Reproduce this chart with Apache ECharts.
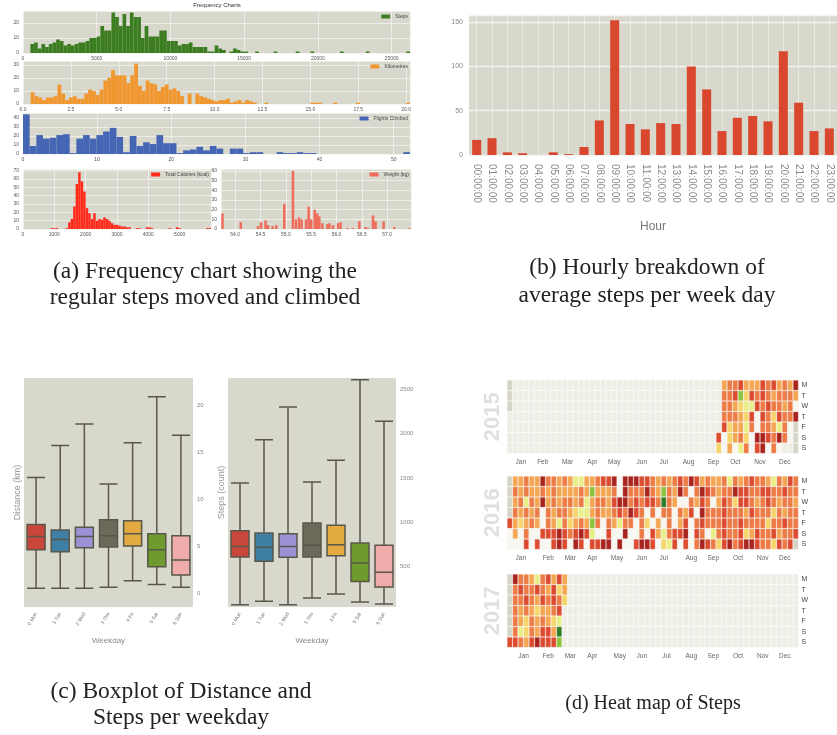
<!DOCTYPE html>
<html>
<head>
<meta charset="utf-8">
<script src="https://cdn.jsdelivr.net/npm/echarts@6/dist/echarts.min.js"></script>
<style>
html,body{margin:0;padding:0;background:#fff;}
#main{width:837px;height:735px;}
</style>
</head>
<body>
<div id="main"></div>
<script>
// ---- (a) frequency charts : histogram counts per bin ----
var stepsBin = 250;
var stepsCounts = [0,0,6,7,3,6,4,6,7,9, 8,5,6,5,6,7,7,8,10,10, 11,18,15,15,27,24,18,26,18,27, 24,24,10,18,11,11,11,15,15,8,
	8,8,5,6,6,7,4,4,4,4, 1,1,5,3,2,0,1,3,2,1, 1,0,0,1,0,0,0,0,1,0, 0,0,0,0,1,0,0,0,1,0, 0,0,0,0,0,0,1,0,0,0, 0,0,0,1,0,0,0,0,0,0, 0,0,0,0,1];
var kmBin = 0.2;
var kmCounts = [0,0,9,6,5,3,5,5,6,15, 8,3,5,6,4,4,8,11,10,7, 11,18,20,26,22,22,22,16,22,31, 14,10,18,16,15,10,13,15,11,12,
	10,6,0,8,0,8,6,5,4,3, 2,3,3,4,1,2,3,1,3,2, 1,0,0,1,0,0,0,0,0,0, 0,0,0,0,0,1,1,1,0,0, 0,1,0,0,0,0,0,1,0,0, 0,0,0,0,0,0,0,0,0,0, 1];
var flightsBin = 0.9;
var flightsCounts = [44,9,21,17,18,21,22,1,17,21, 17,21,25,29,19,2,20,9,13,11, 21,12,12,1,4,5,8,4,9,6, 0,6,6,1,2,2,0,0,2,1, 1,2,1,1,0,0,0,0,0,0, 0,0,0,0,0,0,0,2];
var calBin = 80;
var calCounts = [0,0,0,0,0,0,0,0,0,0, 0,1,1,1,0,0,0,1,8,12, 27,54,68,57,45,25,19,12,19,10, 12,11,14,12,10,7,5,5,4,3,
	3,2,2,0,0,1,1,0,0,2, 2,1,0,0,0,0,0,0,1,0, 0,2,1,0,0,0,0,0,0,0, 0,0,0,1,1];
var weightKg = [53.75,54.11,54.45,54.51,54.60,54.65,54.74,54.81,54.97,55.14,55.20,55.26,55.31,55.40,55.45,55.50,55.57,55.62,55.66,55.72,
	55.82,55.86,55.93,56.03,56.08,56.22,56.32,56.45,56.57,56.62,56.72,56.77,56.93,57.14,57.44];
var weightCount = [16,7,3,7,9,4,3,4,26,60,10,12,10,10,23,10,20,16,13,6, 5,6,4,6,7,1,1,8,2,1,14,8,8,2,1];

// ---- (b) hourly steps ----
var hours = ['00:00:00','01:00:00','02:00:00','03:00:00','04:00:00','05:00:00','06:00:00','07:00:00','08:00:00','09:00:00','10:00:00','11:00:00',
	'12:00:00','13:00:00','14:00:00','15:00:00','16:00:00','17:00:00','18:00:00','19:00:00','20:00:00','21:00:00','22:00:00','23:00:00'];
var hourSteps = [17,19,3,2,0,3,1,9,39,152,35,29,36,35,100,74,27,42,44,38,117,59,27,30];

// ---- (c) boxplots [min, q1, median, q3, max] ----
var weekdays = ['0 Mon','1 Tue','2 Wed','3 Thu','4 Fri','5 Sat','6 Sun'];
var distBox = [[0.5,4.6,6.0,7.3,12.3],[0.5,4.4,5.7,6.7,15.7],[0.5,4.8,6.0,7.0,18.0],[0.6,4.9,6.1,7.8,11.6],
	[1.3,5.0,6.3,7.7,16.0],[0.9,2.8,4.6,6.3,20.9],[0.6,1.9,3.5,6.1,16.8]];
var stepsBox = [[66,606,726,904,1443],[104,557,715,877,1934],[66,602,726,870,2304],[141,606,738,991,1455],
	[187,621,745,964,1700],[96,330,538,764,2613],[74,266,432,738,2142]];

// ---- (d) heat map levels, one string per weekday (Mon..Sun), one char per week column ----
// '.' no data, 0 blank day, 1 (green) .. 8 (dark red)
var heat2015Start = 38;
var heat2015 = ['.56675557675658','.66724767656665','.66543376766560','.66654707647668','.7455360665360.','70456408876860.','405036078060...'];
var heat2016Start = 0;
var heat2016 = [
	'.556558665'+'6533556778'+'0888776565'+'6768756556'+'3656766536'+'576',
	'.656556565'+'5556525556'+'0866686526'+'5860687656'+'6877667766'+'766',
	'.563658565'+'6656356657'+'8867677616'+'5006576057'+'6477656765'+'665',
	'.656560656'+'6543356556'+'7687606066'+'0657086667'+'6665766646'+'566',
	'7545650653'+'6456526065'+'3660640506'+'0570676667'+'6676666466'+'766',
	'0506007778'+'7678730070'+'0800607536'+'7780760367'+'6674576675'+'667',
	'0007070078'+'7087077880'+'8007887043'+'7070687647'+'8678876647'+'67.'];
var heat2017Start = 0;
var heat2017 = ['.8665367575','.6766765745','.6676576764','.656545567','.654656543','.634657751','7765787772'];

var boxColors = ['#c8473a','#3f7fa6','#9d91d6','#6b695a','#e2aa40','#6f9a2d','#efacaa'];
var panelBg = '#d9d8cc';

function pad(n){ return n < 10 ? '0'+n : ''+n; }
function ymd(d){ return d.getUTCFullYear()+'-'+pad(d.getUTCMonth()+1)+'-'+pad(d.getUTCDate()); }
function heatData(rows, yr, startCol){
	var jan1 = Date.UTC(yr,0,1);
	var dow = (new Date(jan1).getUTCDay()+6)%7;
	var t0 = jan1 - dow*864e5;
	var out = [];
	for (var r=0;r<7;r++){
		for (var c=0;c<53;c++){
			var d = new Date(t0 + (c*7+r)*864e5);
			if (d.getUTCFullYear() !== yr){ out.push([ymd(d),-1]); continue; }
			if (c < startCol) continue;
			var ch = rows[r].charAt(c-startCol);
			if (ch === '' || ch === '.') continue;
			out.push([ymd(d), +ch]);
		}
	}
	return {range:[ymd(new Date(t0)), ymd(new Date(t0+370*864e5))], data:out};
}
function idx(arr){ return arr.map(function(v,i){ return i; }); }
function plain(v){ return String(v); }

var grids = [
	{left:23, top:11, width:387, height:42},
	{left:23, top:61, width:387, height:43},
	{left:23, top:113, width:387, height:41},
	{left:23, top:169, width:188, height:60},
	{left:221, top:169, width:190, height:60},
	{left:469, top:15, width:372, height:140},
	{left:24, top:378, width:169, height:229},
	{left:228, top:378, width:168, height:229}
];
grids.forEach(function(g){ g.show = true; g.backgroundColor = panelBg; g.borderWidth = 0; });

var white = {show:true, lineStyle:{color:'#f4f4f0', width:0.8}};
function valX(g, max, interval, fmt){
	return {type:'value', gridIndex:g, position:'bottom', min:0, max:max, interval:interval,
		axisLine:{show:false}, axisTick:{show:false}, splitLine:white,
		axisLabel:{fontSize:5, color:'#555', margin:3, showMaxLabel:false, formatter:fmt || plain}};
}
function catX(g, counts){
	return {type:'category', gridIndex:g, position:'top', show:false, data:idx(counts)};
}
function histY(g, max){
	return {type:'value', gridIndex:g, min:0, max:max, interval:10,
		axisLine:{show:false}, axisTick:{show:false}, splitLine:white,
		axisLabel:{fontSize:5, color:'#555', margin:4, showMaxLabel:false}};
}
function histBar(name, xi, yi, counts, color){
	return {name:name, type:'bar', xAxisIndex:xi, yAxisIndex:yi, data:counts, barCategoryGap:'0%', barGap:'0%',
		itemStyle:{color:color}};
}
function legendAt(name, right, top){
	return {data:[{name:name, icon:'rect'}], right:right, top:top, itemWidth:9, itemHeight:4, padding:0,
		textStyle:{fontSize:5, color:'#444'}};
}

var h15 = heatData(heat2015, 2015, heat2015Start);
var h16 = heatData(heat2016, 2016, heat2016Start);
var h17 = heatData(heat2017, 2017, heat2017Start);
function cal(top, range, yr){
	return {left:507, top:top, range:range, cellSize:[5.5,10.5],
		itemStyle:{color:'#eeede6', borderColor:'#fbfbf8', borderWidth:0.6},
		splitLine:{show:false},
		dayLabel:{firstDay:1, position:'end', nameMap:['S','M','T','W','T','F','S'], fontSize:7, color:'#444', margin:3},
		monthLabel:{position:'end', align:'center', margin:5, fontSize:6.5, color:'#666',
			formatter:function(p){ return +p.yyyy === yr ? p.nameMap : ''; }},
		yearLabel:{position:'left', margin:3, fontSize:22, color:'#e0e0e0', formatter:function(){ return String(yr); }}};
}

function caption(size, lh){
	return {fontFamily:'Liberation Serif', fontSize:size, fontWeight:'normal', color:'#222', lineHeight:lh};
}
var option = {
	animation:false,
	backgroundColor:'#ffffff',
	title:[
		{text:'Frequency Charts', left:217, top:2, padding:0, textAlign:'center', textStyle:{fontSize:6, fontWeight:'normal', color:'#333'}},
		{text:'(a) Frequency chart showing the\nregular steps moved and climbed', left:205, top:259, padding:0, textAlign:'center', textStyle:caption(23.5, 26)},
		{text:'(b) Hourly breakdown of\naverage steps per week day', left:647, top:254, padding:0, textAlign:'center', textStyle:caption(23.5, 28)},
		{text:'(c) Boxplot of Distance and\nSteps per weekday', left:181, top:679, padding:0, textAlign:'center', textStyle:caption(23.5, 26)},
		{text:'(d) Heat map of Steps', left:653, top:691, padding:0, textAlign:'center', textStyle:caption(20, 26)}
	],
	legend:[
		legendAt('Steps', 429, 14),
		legendAt('Kilometres', 429, 64),
		legendAt('Flights Climbed', 429, 116),
		legendAt('Total Calories (kcal)', 628, 172),
		legendAt('Weight (kg)', 428, 172)
	],
	grid:grids,
	xAxis:[
		catX(0, stepsCounts), valX(0, stepsBin*stepsCounts.length, 5000),
		catX(1, kmCounts), valX(1, 20.2, 2.5, function(v){ return v.toFixed(1); }),
		catX(2, flightsCounts), valX(2, flightsBin*flightsCounts.length, 10),
		catX(3, calCounts), valX(3, calBin*calCounts.length, 1000),
		{type:'value', gridIndex:4, min:53.72, max:57.47, splitNumber:7,
			axisLine:{show:false}, axisTick:{show:false}, splitLine:white,
			axisLabel:{fontSize:5, color:'#555', margin:3, showMinLabel:false, showMaxLabel:false, formatter:function(v){ return v.toFixed(1); }}},
		{type:'category', gridIndex:5, data:hours, axisLine:{show:false}, axisTick:{show:false},
			axisLabel:{rotate:-90, fontSize:10, color:'#888', margin:9, interval:0},
			name:'Hour', nameLocation:'middle', nameGap:66, nameTextStyle:{fontSize:12, color:'#777'}},
		{type:'category', gridIndex:6, data:weekdays, axisLine:{show:false}, axisTick:{show:false},
			axisLabel:{rotate:60, fontSize:5, color:'#777', margin:6, interval:0},
			name:'Weekday', nameLocation:'middle', nameGap:30, nameTextStyle:{fontSize:8, color:'#888'}},
		{type:'category', gridIndex:7, data:weekdays, axisLine:{show:false}, axisTick:{show:false},
			axisLabel:{rotate:60, fontSize:5, color:'#777', margin:6, interval:0},
			name:'Weekday', nameLocation:'middle', nameGap:30, nameTextStyle:{fontSize:8, color:'#888'}}
	],
	yAxis:[
		histY(0, 28), histY(1, 33), histY(2, 45.5), histY(3, 72), histY(4, 62),
		{type:'value', gridIndex:5, min:0, max:158, interval:50, axisLine:{show:false}, axisTick:{show:false},
			splitLine:{show:true, lineStyle:{color:'#f4f4f0', width:1.3}},
			axisLabel:{fontSize:7, color:'#888', margin:6, showMaxLabel:false}},
		{type:'value', gridIndex:6, position:'right', min:-1.5, max:22.9, splitNumber:5,
			axisLine:{show:false}, axisTick:{show:false}, splitLine:{show:false},
			axisLabel:{fontSize:6, color:'#888', margin:4, showMinLabel:false, showMaxLabel:false}},
		{type:'value', gridIndex:7, position:'right', min:40, max:2632, splitNumber:5,
			axisLine:{show:false}, axisTick:{show:false}, splitLine:{show:false},
			axisLabel:{fontSize:6, color:'#888', margin:4, showMinLabel:false, showMaxLabel:false, formatter:plain}},
		{type:'value', gridIndex:6, position:'left', axisLine:{show:false}, axisTick:{show:false}, axisLabel:{show:false}, splitLine:{show:false},
			name:'Distance (km)', nameLocation:'middle', nameGap:2, nameTextStyle:{fontSize:9, color:'#999'}},
		{type:'value', gridIndex:7, position:'left', axisLine:{show:false}, axisTick:{show:false}, axisLabel:{show:false}, splitLine:{show:false},
			name:'Steps (count)', nameLocation:'middle', nameGap:2, nameTextStyle:{fontSize:9, color:'#999'}}
	],
	calendar:[cal(380, h15.range, 2015), cal(476, h16.range, 2016), cal(574, h17.range, 2017)],
	visualMap:{type:'piecewise', show:false, seriesIndex:[8,9,10], dimension:1,
		pieces:[
			{value:-1, color:'#d6d4c8'}, {value:0, color:'#f7f6f1'}, {value:1, color:'#2f7d24'}, {value:2, color:'#8cc43f'},
			{value:3, color:'#e9ef86'}, {value:4, color:'#f6d56a'}, {value:5, color:'#f4a652'}, {value:6, color:'#ed7b45'},
			{value:7, color:'#dc4a30'}, {value:8, color:'#a9231f'}
		]},
	series:[
		histBar('Steps', 0, 0, stepsCounts, '#3c7d22'),
		histBar('Kilometres', 2, 1, kmCounts, '#f0972f'),
		histBar('Flights Climbed', 4, 2, flightsCounts, '#4566b5'),
		histBar('Total Calories (kcal)', 6, 3, calCounts, '#ff2c1c'),
		{name:'Weight (kg)', type:'bar', xAxisIndex:8, yAxisIndex:4, barWidth:2.5,
			data:weightKg.map(function(k,i){ return [k, weightCount[i]]; }), itemStyle:{color:'#ef6c5c'}},
		{name:'hourly', type:'bar', xAxisIndex:9, yAxisIndex:5, data:hourSteps, barWidth:9, itemStyle:{color:'#d9472f'},
			markLine:{silent:true, z:1, symbol:['none','none'], label:{show:false},
				lineStyle:{color:'#efefea', width:0.8, type:'solid'},
				data:hours.map(function(h){ return {xAxis:h}; })}},
		{name:'distance', type:'boxplot', xAxisIndex:10, yAxisIndex:6, boxWidth:[18,18],
			itemStyle:{borderColor:'#58574a', borderWidth:1.5},
			data:distBox.map(function(d,i){ return {value:d, itemStyle:{color:boxColors[i]}}; })},
		{name:'steps', type:'boxplot', xAxisIndex:11, yAxisIndex:7, boxWidth:[18,18],
			itemStyle:{borderColor:'#58574a', borderWidth:1.5},
			data:stepsBox.map(function(d,i){ return {value:d, itemStyle:{color:boxColors[i]}}; })},
		{type:'heatmap', coordinateSystem:'calendar', calendarIndex:0, data:h15.data, itemStyle:{borderColor:'rgba(255,255,255,0.45)', borderWidth:0.5}},
		{type:'heatmap', coordinateSystem:'calendar', calendarIndex:1, data:h16.data, itemStyle:{borderColor:'rgba(255,255,255,0.45)', borderWidth:0.5}},
		{type:'heatmap', coordinateSystem:'calendar', calendarIndex:2, data:h17.data, itemStyle:{borderColor:'rgba(255,255,255,0.45)', borderWidth:0.5}}
	]
};
var chart = echarts.init(document.getElementById('main'));
chart.setOption(option);
</script>
</body>
</html>
